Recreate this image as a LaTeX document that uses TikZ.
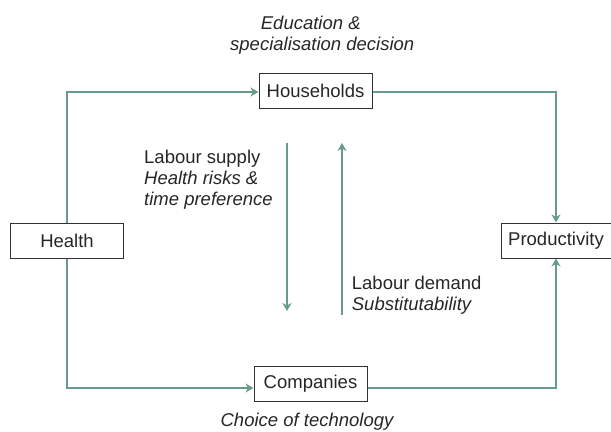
\documentclass[tikz,border=0pt]{standalone}
\usepackage{fontspec}
\setmainfont{Liberation Sans}
\usetikzlibrary{arrows.meta}
\definecolor{flow}{RGB}{104,156,136}
\definecolor{boxline}{RGB}{50,50,50}
\begin{document}
\begin{tikzpicture}[x=1bp,y=-1bp,
  box/.style={draw=boxline,line width=1bp,minimum width=113bp,minimum height=35bp,inner sep=0pt,font=\fontsize{18.5bp}{21bp}\selectfont,text=black!85},
  flowline/.style={draw=flow,line width=2bp,-{Stealth[length=8bp,width=9bp,inset=2.5bp]}},
  lbl/.style={font=\fontsize{18.5bp}{21bp}\selectfont,align=left,inner sep=0pt,text=black!85}]
\useasboundingbox (0,0) rectangle (611,431);
\node[box] (hh) at (315.5,90.5) {Households};
\node[box] (health) at (67,240.5) {Health};
\node[box,minimum width=110bp] (prod) at (556,240.5) {Productivity};
\node[box] (comp) at (310.5,383.5) {Companies};
\draw[flowline] (health.north) |- ([yshift=-1.5bp]hh.west);
\draw[flowline] ([yshift=-1.5bp]hh.east) -| (prod.north);
\draw[flowline] (health.south) |- ([yshift=-4.5bp]comp.west);
\draw[flowline] ([yshift=-4.5bp]comp.east) -| (prod.south);
\coordinate (d1) at (287,143);
\coordinate (d2) at (287,311);
\coordinate (u1) at (342,315);
\coordinate (u2) at (342,143);
\draw[flowline] (d1) -- (d2);
\draw[flowline] (u1) -- (u2);
\node[lbl,anchor=base west] (edu) at (230,50.3) {\hspace*{30.7bp}\itshape Education \&\\\itshape specialisation decision};
\node[lbl,anchor=base west] (supply) at (144,205.8) {Labour supply\\\itshape Health risks \&\\\itshape time preference};
\node[lbl,anchor=base west] (demand) at (351.7,310) {Labour demand\\\itshape Substitutability};
\node[lbl,anchor=base] (tech) at (307,426.5) {\itshape Choice of technology};
\end{tikzpicture}
\end{document}
